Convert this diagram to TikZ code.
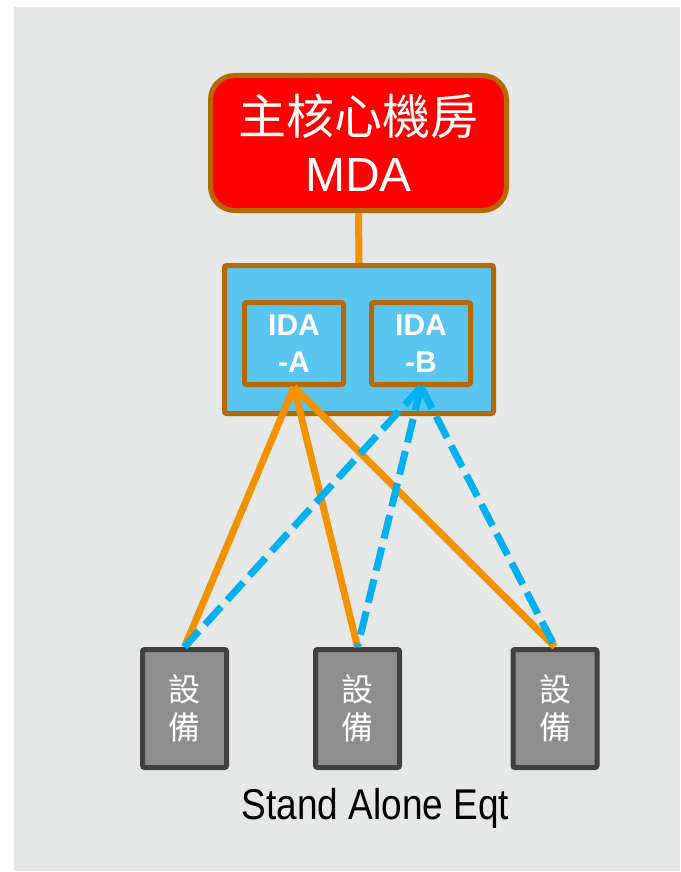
\documentclass[tikz,border=0pt]{standalone}
\usepackage{fontspec}
\setmainfont{Liberation Sans}
\newfontfamily\cjk{Noto Sans CJK TC}
\newfontfamily\narrowsans[FakeStretch=0.86]{Liberation Sans}
\definecolor{bggray}{RGB}{230,231,231}
\definecolor{brownedge}{RGB}{180,106,0}
\definecolor{linkorange}{RGB}{243,146,0}
\definecolor{linkblue}{RGB}{0,176,240}
\definecolor{idablue}{RGB}{91,197,242}
\definecolor{eqgray}{RGB}{142,142,142}
\definecolor{eqedge}{RGB}{64,64,64}

\begin{document}
\begin{tikzpicture}
  [x=0.5pt,y=-0.5pt,
   every node/.style={inner sep=0pt,align=center,text=white},
   mdabox/.style={draw=brownedge,line width=2.5pt,fill=red,rounded corners=12pt,
     minimum width=148pt,minimum height=67.5pt,font=\fontsize{24}{28.5}\selectfont},
   outerbox/.style={draw=brownedge,line width=2.5pt,fill=idablue,rounded corners=1pt,
     minimum width=134.5pt,minimum height=74pt},
   idabox/.style={draw=brownedge,line width=2.5pt,fill=idablue,rounded corners=1pt,
     minimum width=49.5pt,minimum height=41pt,font=\fontsize{15}{18.5}\selectfont\bfseries},
   eqbox/.style={draw=eqedge,line width=2.5pt,fill=eqgray,rounded corners=1pt,
     minimum width=42pt,minimum height=59pt,font=\fontsize{16}{19}\selectfont\cjk},
   solidlink/.style={draw=linkorange,line width=3.5pt},
   dashlink/.style={draw=linkblue,line width=3.5pt,dash pattern=on 12pt off 4.5pt}]
  \useasboundingbox (0,0) rectangle (680,872);
  \fill[bggray] (14,7) rectangle (680,871);

  \node[mdabox] (mda) at (358.5,143) {{\cjk 主核心機房}\\MDA};
  \node[outerbox] (ida) at (359,339.5) {};
  \node[idabox] (idaa) at (294,343.5) {IDA\\-A};
  \node[idabox] (idab) at (421,343.5) {IDA\\-B};
  \node[eqbox] (eqa) at (184.5,708.5) {設\\備};
  \node[eqbox] (eqb) at (357.5,708.5) {設\\備};
  \node[eqbox] (eqc) at (555,708.5) {設\\備};
  \node[text=black,font=\fontsize{21.5}{25}\selectfont\narrowsans] (sae) at (375.5,808) {Stand Alone Eqt};

  \draw[solidlink] (mda.south) -- (ida.north);
  \foreach \eq in {eqa,eqb,eqc}
    \draw[solidlink] (idaa.south) -- (\eq.north);
  \foreach \eq in {eqa,eqb,eqc}
    \draw[dashlink] (idab.south) -- (\eq.north);
\end{tikzpicture}
\end{document}
